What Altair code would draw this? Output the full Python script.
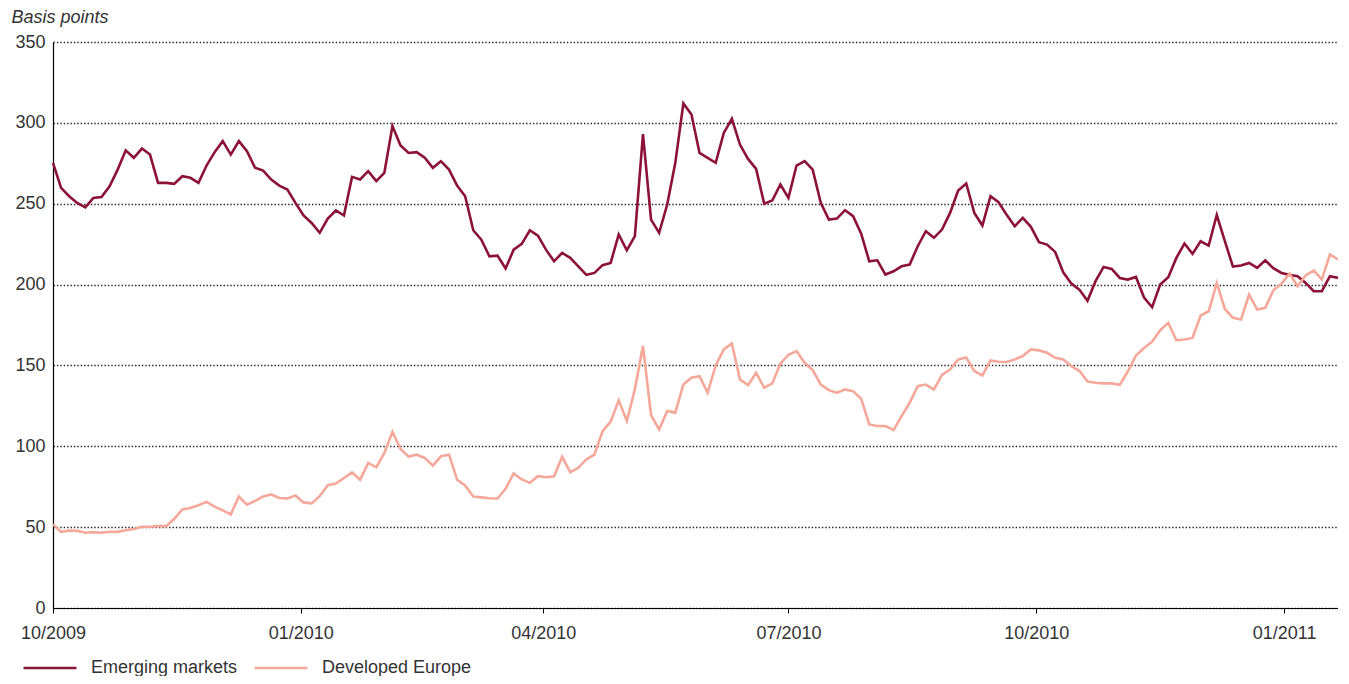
import altair as alt
import pandas as pd

# Observation dates (every 3rd calendar day, Oct 2009 - Jan 2011)
dates = pd.date_range("2009-10-01", periods=160, freq="3D")

emerging = [
    275.3, 259.8, 254.6, 250.5, 247.8, 253.6, 254.2, 260.8, 271.1, 283.0,
    278.4, 284.1, 280.4, 262.9, 262.9, 262.3, 267.0, 266.0, 262.9, 273.6,
    281.9, 288.7, 280.4, 288.7, 282.5, 272.2, 270.5, 264.9, 261.2, 258.8,
    250.5, 242.7, 238.1, 232.0, 240.8, 245.8, 242.7, 266.6, 265.0, 270.1,
    264.0, 269.1, 298.0, 286.0, 281.4, 281.9, 278.4, 272.2, 276.3, 271.1,
    261.2, 254.6, 233.6, 227.8, 217.5, 217.9, 209.9, 221.6, 225.2, 233.6,
    230.3, 221.6, 214.4, 219.6, 216.5, 211.3, 206.0, 207.2, 212.0, 213.4,
    231.0, 221.2, 229.9, 293.0, 240.2, 232.0, 249.5, 275.3, 312.0, 305.2,
    281.4, 278.4, 275.3, 293.8, 302.5, 286.6, 277.7, 271.5, 250.0, 252.0,
    261.9, 253.6, 273.6, 276.3, 271.1, 250.5, 240.2, 240.8, 246.0, 242.3,
    231.5, 214.4, 215.0, 206.2, 208.2, 211.3, 212.4, 223.7, 233.0, 228.9,
    234.0, 244.3, 258.1, 262.5, 244.3, 236.5, 254.6, 250.9, 243.1, 236.1,
    241.2, 235.7, 226.2, 224.7, 220.2, 207.6, 200.6, 196.9, 190.0, 202.1,
    210.9, 209.7, 204.1, 203.1, 204.7, 192.0, 186.0, 200.0, 204.5, 216.5,
    225.4, 219.0, 226.8, 224.1, 243.0, 226.8, 211.1, 211.8, 213.4, 210.3,
    215.0, 210.1, 207.2, 206.0, 205.2, 201.0, 195.9, 195.9, 205.2, 204.1,
]

developed = [
    51.7, 47.1, 47.9, 47.7, 46.5, 46.9, 46.5, 47.1, 47.1, 48.1,
    48.8, 50.2, 50.2, 50.6, 50.6, 55.2, 61.0, 61.8, 63.5, 65.6,
    62.7, 60.4, 57.9, 68.9, 63.9, 66.2, 68.9, 70.2, 68.0, 67.8,
    69.6, 65.3, 64.7, 69.2, 76.0, 76.9, 80.4, 83.9, 79.3, 89.7,
    87.0, 95.9, 109.0, 98.3, 93.6, 94.8, 92.8, 88.0, 93.8, 94.8,
    79.3, 75.8, 69.0, 68.4, 67.9, 67.7, 73.7, 83.2, 79.5, 77.4,
    81.5, 80.9, 81.5, 93.5, 84.0, 86.7, 91.9, 94.9, 109.4, 115.2,
    128.4, 115.6, 135.2, 162.0, 119.3, 110.4, 121.8, 120.8, 138.2, 142.4,
    143.4, 133.1, 150.0, 159.9, 163.6, 141.3, 137.8, 145.5, 136.2, 138.9,
    151.0, 156.6, 158.9, 151.6, 147.1, 138.2, 134.7, 133.1, 135.2, 134.1,
    129.4, 113.5, 112.5, 112.5, 110.0, 118.7, 126.9, 137.2, 138.2, 135.2,
    144.2, 147.5, 153.7, 154.9, 146.5, 143.8, 153.1, 152.3, 152.1, 153.7,
    155.8, 159.9, 159.3, 157.8, 154.7, 153.7, 149.6, 146.7, 140.1, 139.3,
    138.9, 138.9, 138.0, 146.4, 156.1, 160.8, 164.7, 171.8, 176.3, 165.6,
    166.0, 167.0, 180.8, 183.5, 201.0, 184.9, 179.4, 178.4, 193.8, 184.5,
    185.6, 196.5, 200.4, 206.8, 199.0, 205.6, 208.7, 203.1, 218.6, 215.5,
]

series_names = ["Emerging markets", "Developed Europe"]
series_colors = ["#8c1238", "#f5a899"]
quarter_ticks = ["2009-10-01", "2010-01-01", "2010-04-01", "2010-07-01", "2010-10-01", "2011-01-01"]
y_ticks = [0, 50, 100, 150, 200, 250, 300, 350]

df = pd.concat([
    pd.DataFrame({"date": dates, "value": emerging, "series": series_names[0]}),
    pd.DataFrame({"date": dates, "value": developed, "series": series_names[1]}),
])

FONT = "Liberation Sans"
FS = 18

chart = alt.Chart(df).mark_line(strokeWidth=2.6, strokeJoin="miter").encode(
    x=alt.X(
        "date:T",
        scale=alt.Scale(domain=["2009-10-01", "2011-01-21"], nice=False),
        axis=alt.Axis(
            title=None,
            values=quarter_ticks,
            format="%m/%Y",
            grid=False,
            domain=True,
            domainColor="#000000",
            domainWidth=1.2,
            ticks=True,
            tickSize=5,
            tickColor="#000000",
            labelFontSize=FS,
            labelColor="#333333",
            labelFont=FONT,
            labelPadding=11,
            labelFlush=False,
        ),
    ),
    y=alt.Y(
        "value:Q",
        scale=alt.Scale(domain=[0, 350], nice=False),
        axis=alt.Axis(
            title="Basis points",
            titleAngle=0,
            titleAlign="left",
            titleBaseline="middle",
            titleX=-42,
            titleY=-25,
            titleFont=FONT,
            titleFontSize=FS,
            titleFontStyle="italic",
            titleFontWeight="normal",
            titleColor="#333333",
            values=y_ticks,
            grid=True,
            gridColor="#222222",
            gridDash=[1.4, 2.0],
            gridWidth=1.3,
            domain=True,
            domainColor="#000000",
            domainWidth=1.2,
            ticks=False,
            labelFontSize=FS,
            labelColor="#333333",
            labelFont=FONT,
            labelPadding=8,
        ),
    ),
    color=alt.Color(
        "series:N",
        scale=alt.Scale(domain=series_names, range=series_colors),
        sort=series_names,
        legend=alt.Legend(
            title=None,
            orient="none",
            legendX=-31,
            legendY=598,
            direction="horizontal",
            symbolType="stroke",
            symbolSize=2800,
            symbolStrokeWidth=2.6,
            labelFontSize=FS,
            labelColor="#333333",
            labelFont=FONT,
            labelOffset=13,
            columnPadding=11,
        ),
    ),
).properties(
    width=1285,
    height=566,
    autosize=alt.AutoSizeParams(type="none"),
    padding={"left": 45, "top": 34, "right": 0, "bottom": 68},
).configure_view(stroke=None)

chart.save("out.html", embed_options={"renderer": "svg", "actions": False})
